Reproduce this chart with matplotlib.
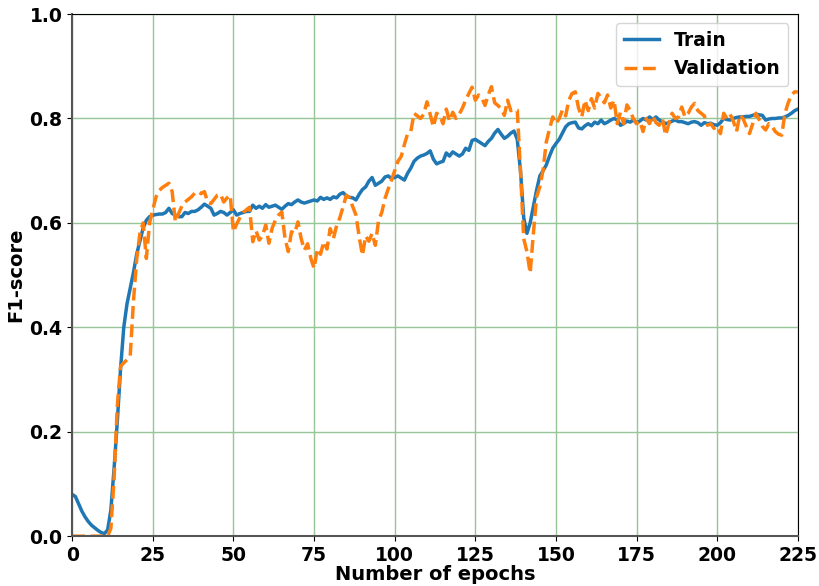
import matplotlib
matplotlib.use("Agg")
import matplotlib.pyplot as plt
import numpy as np

# F1 per epoch, 0..225
train_f1 = [
    0.080, 0.076, 0.062, 0.048, 0.037, 0.028, 0.021, 0.016, 0.011, 0.007,
    0.005, 0.012, 0.050, 0.130, 0.220, 0.320, 0.400, 0.445, 0.475, 0.505,
    0.540, 0.565, 0.590, 0.605, 0.612, 0.615, 0.616, 0.617, 0.617, 0.620,
    0.628, 0.618, 0.615, 0.612, 0.612, 0.620, 0.618, 0.622, 0.622, 0.625,
    0.630, 0.636, 0.632, 0.628, 0.615, 0.618, 0.622, 0.620, 0.615, 0.620,
    0.625, 0.615, 0.618, 0.620, 0.622, 0.622, 0.634, 0.628, 0.632, 0.628,
    0.635, 0.630, 0.632, 0.634, 0.630, 0.626, 0.632, 0.637, 0.635, 0.640,
    0.644, 0.640, 0.638, 0.640, 0.642, 0.644, 0.642, 0.649, 0.645, 0.648,
    0.645, 0.650, 0.648, 0.655, 0.658, 0.652, 0.649, 0.648, 0.644, 0.655,
    0.664, 0.669, 0.680, 0.687, 0.672, 0.676, 0.680, 0.688, 0.690, 0.685,
    0.687, 0.690, 0.686, 0.682, 0.695, 0.705, 0.718, 0.724, 0.728, 0.730,
    0.733, 0.738, 0.722, 0.713, 0.716, 0.718, 0.734, 0.728, 0.736, 0.732,
    0.728, 0.732, 0.743, 0.739, 0.758, 0.760, 0.756, 0.752, 0.748, 0.756,
    0.762, 0.772, 0.779, 0.770, 0.762, 0.766, 0.772, 0.776, 0.760, 0.700,
    0.610, 0.580, 0.600, 0.632, 0.663, 0.690, 0.700, 0.711, 0.728, 0.743,
    0.752, 0.760, 0.772, 0.784, 0.790, 0.792, 0.793, 0.782, 0.780, 0.786,
    0.790, 0.786, 0.793, 0.790, 0.797, 0.790, 0.793, 0.797, 0.800, 0.797,
    0.787, 0.790, 0.795, 0.793, 0.797, 0.792, 0.795, 0.800, 0.797, 0.803,
    0.798, 0.803, 0.797, 0.794, 0.790, 0.792, 0.795, 0.797, 0.794, 0.794,
    0.792, 0.790, 0.793, 0.794, 0.792, 0.787, 0.792, 0.790, 0.791, 0.788,
    0.787, 0.792, 0.800, 0.798, 0.797, 0.800, 0.802, 0.803, 0.803, 0.804,
    0.804, 0.806, 0.808, 0.807, 0.806, 0.797, 0.799, 0.800, 0.800, 0.801,
    0.801, 0.803, 0.806, 0.810, 0.815, 0.818,
]

val_f1 = [
    0.000, 0.000, 0.000, 0.000, 0.000, 0.000, 0.000, 0.000, 0.000, 0.000,
    0.000, 0.000, 0.015, 0.110, 0.250, 0.325, 0.332, 0.338, 0.345, 0.450,
    0.530, 0.580, 0.600, 0.532, 0.600, 0.625, 0.650, 0.662, 0.668, 0.672,
    0.676, 0.660, 0.602, 0.618, 0.632, 0.640, 0.645, 0.650, 0.657, 0.660,
    0.656, 0.660, 0.640, 0.637, 0.645, 0.653, 0.655, 0.640, 0.648, 0.653,
    0.583, 0.598, 0.610, 0.620, 0.625, 0.630, 0.564, 0.585, 0.567, 0.575,
    0.596, 0.561, 0.590, 0.605, 0.615, 0.621, 0.570, 0.545, 0.583, 0.580,
    0.602, 0.570, 0.548, 0.560, 0.532, 0.513, 0.550, 0.540, 0.564, 0.550,
    0.589, 0.570, 0.595, 0.610, 0.631, 0.653, 0.648, 0.631, 0.615, 0.573,
    0.538, 0.575, 0.565, 0.580, 0.557, 0.605, 0.620, 0.647, 0.665, 0.682,
    0.700, 0.718, 0.727, 0.750, 0.771, 0.775, 0.810, 0.805, 0.800, 0.808,
    0.832, 0.808, 0.784, 0.810, 0.805, 0.790, 0.818, 0.795, 0.812, 0.800,
    0.808, 0.820, 0.835, 0.848, 0.860, 0.835, 0.845, 0.840, 0.825, 0.845,
    0.861, 0.830, 0.825, 0.819, 0.806, 0.835, 0.815, 0.818, 0.816, 0.700,
    0.570, 0.545, 0.504, 0.580, 0.650, 0.669, 0.701, 0.755, 0.780, 0.803,
    0.790, 0.800, 0.816, 0.805, 0.835, 0.848, 0.851, 0.820, 0.803, 0.835,
    0.815, 0.838, 0.820, 0.848, 0.840, 0.830, 0.845, 0.820, 0.835, 0.790,
    0.812, 0.790, 0.826, 0.815, 0.800, 0.790, 0.795, 0.775, 0.800, 0.790,
    0.805, 0.792, 0.787, 0.800, 0.768, 0.790, 0.810, 0.800, 0.803, 0.822,
    0.803, 0.810, 0.822, 0.829, 0.815, 0.810, 0.805, 0.787, 0.790, 0.781,
    0.785, 0.771, 0.810, 0.800, 0.808, 0.795, 0.775, 0.807, 0.800, 0.785,
    0.771, 0.790, 0.810, 0.798, 0.785, 0.778, 0.790, 0.785, 0.775, 0.770,
    0.768, 0.810, 0.830, 0.845, 0.851, 0.851,
]

epochs = np.arange(len(train_f1))
x_ticks = list(range(0, 226, 25))
y_ticks = [0.0, 0.2, 0.4, 0.6, 0.8, 1.0]

plt.rcParams['font.weight'] = 'bold'
plt.rcParams['font.size'] = 14

fig = plt.figure(figsize=(8.2, 5.86), dpi=100)
ax = fig.add_axes([0.088, 0.085, 0.885, 0.891])

ax.plot(epochs, train_f1, color='#1f77b4', lw=2.5, label='Train')
ax.plot(epochs, val_f1, color='#ff7f0e', lw=2.5, ls='--', label='Validation')

ax.set_xlim(0, 225)
ax.set_ylim(0, 1.0)
ax.set_xticks(x_ticks)
ax.set_yticks(y_ticks)
ax.set_yticklabels([f"{v:.1f}" for v in y_ticks])
ax.tick_params(labelsize=13.5)
ax.grid(True, color='#97c597', lw=1.0)
ax.set_axisbelow(True)

ax.set_xlabel("Number of epochs", fontweight='bold', fontsize=14, labelpad=0)
ax.set_ylabel("F1-score", fontweight='bold', fontsize=14, labelpad=3)

for side in ['left', 'bottom']:
    ax.spines[side].set_color('#555555')
    ax.spines[side].set_linewidth(1.5)

leg = ax.legend(loc='upper right', prop={'weight': 'bold', 'size': 13.5},
                handlelength=1.9)

fig.savefig("out.png", dpi=100)
